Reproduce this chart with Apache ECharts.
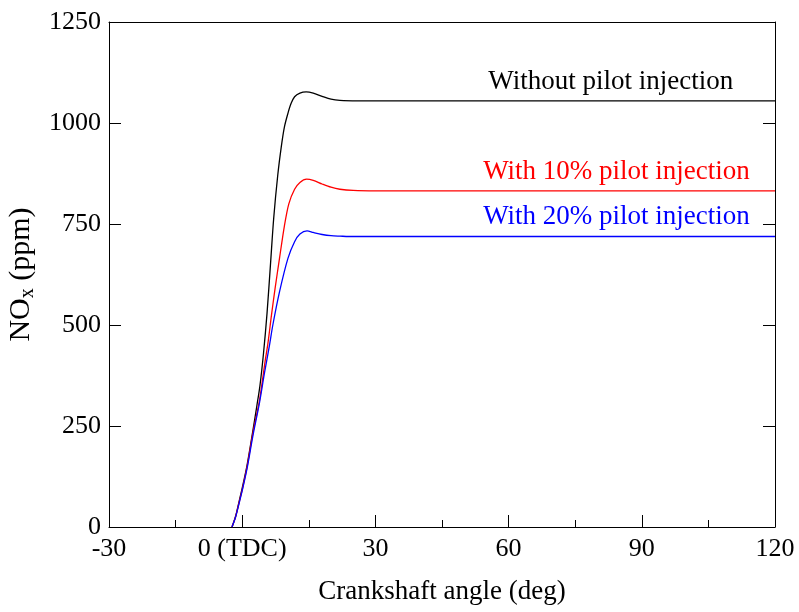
<!DOCTYPE html>
<html>
<head>
<meta charset="utf-8">
<script src="https://cdn.jsdelivr.net/npm/echarts@6/dist/echarts.min.js"></script>
<style>
  html, body { margin: 0; padding: 0; background: #fff; }
  #chart { width: 799px; height: 612px; }
</style>
</head>
<body>
<div id="chart"></div>
<script>
// crank angle (deg) / NOx (ppm)
const noPilotAngle = [-2.3, -1.5, -0.6, 0, 1.1, 2.4, 3.3, 4.0, 4.8, 5.6, 6.4, 7.1, 8, 8.8, 9.5, 10.3, 11, 11.8, 13, 14.4, 16, 18, 20, 22, 26, 120];
const noPilotNox = [0, 26, 68, 96, 153, 238, 300, 350, 430, 530, 655, 765, 870, 941, 990, 1024, 1048, 1065, 1074, 1077, 1074, 1066, 1059, 1056, 1055, 1055];

const pilot10Angle = [-2.3, -1.5, -0.6, 0, 1.1, 2.4, 3.9, 5.2, 5.8, 6.6, 7.4, 8.4, 9.5, 10.5, 11.8, 13, 14.5, 16, 18, 20, 22, 25, 30, 120];
const pilot10Nox = [0, 25, 65, 92, 149, 232, 314, 413, 455, 525, 590, 665, 745, 800, 836, 853, 861, 858, 849, 841, 836, 833, 832, 832];

const pilot20Angle = [-2.3, -1.5, -0.6, 0, 1.1, 2.4, 3.9, 5.0, 6.15, 6.9, 8.4, 10.3, 11.8, 13, 14.6, 16, 18, 20, 22, 25, 120];
const pilot20Nox = [0, 24, 63, 90, 145, 225, 308, 380, 450, 500, 582, 665, 706, 725, 733, 729, 724, 721, 720, 719, 719];

const seriesNames = ['Without pilot injection', 'With 10% pilot injection', 'With 20% pilot injection'];
const seriesColors = ['#000000', '#ff0000', '#0000ff'];
// where each curve's caption sits, in data units
const captionAt = [[83.0, 1101], [84.3, 879], [84.3, 767]];

const xTicks = [-30, 0, 30, 60, 90, 120];
const yTicks = [0, 250, 500, 750, 1000, 1250];

const font = 'Liberation Serif';

function pairs(xs, ys) {
  return xs.map((x, i) => [x, ys[i]]);
}

const curves = [
  pairs(noPilotAngle, noPilotNox),
  pairs(pilot10Angle, pilot10Nox),
  pairs(pilot20Angle, pilot20Nox),
];

const chart = echarts.init(document.getElementById('chart'));

const axisLine = { show: true, onZero: false, lineStyle: { color: '#000', width: 1 } };
const tick = { show: true, inside: true, length: 12, lineStyle: { color: '#000' } };

chart.setOption({
  animation: false,
  grid: { left: 109, right: 24, top: 22, bottom: 85, outerBoundsMode: 'none' },
  xAxis: [
    {
      type: 'value',
      min: xTicks[0],
      max: xTicks[xTicks.length - 1],
      interval: 30,
      axisLine: axisLine,
      axisTick: tick,
      minorTick: { show: true, splitNumber: 2, length: 7, lineStyle: { color: '#000' } },
      splitLine: { show: false },
      axisLabel: {
        color: '#000', fontFamily: font, fontSize: 26, margin: 9,
        formatter: v => (v === 0 ? '0 (TDC)' : String(v)),
      },
      name: 'Crankshaft angle (deg)',
      nameLocation: 'middle',
      nameGap: 51,
      nameTextStyle: { color: '#000', fontFamily: font, fontSize: 27 },
    },
    {
      type: 'value',
      position: 'top',
      min: xTicks[0],
      max: xTicks[xTicks.length - 1],
      axisLine: axisLine,
      axisTick: { show: false },
      axisLabel: { show: false },
      splitLine: { show: false },
    },
  ],
  yAxis: [
    {
      type: 'value',
      min: yTicks[0],
      max: yTicks[yTicks.length - 1],
      interval: 250,
      axisLine: axisLine,
      axisTick: tick,
      splitLine: { show: false },
      axisLabel: { color: '#000', fontFamily: font, fontSize: 26, margin: 8, formatter: v => String(v) },
      name: 'NO{sub|x} (ppm)',
      nameLocation: 'middle',
      nameGap: 62,
      nameTextStyle: {
        color: '#000', fontFamily: font, fontSize: 30,
        rich: {
          sub: { fontFamily: font, fontSize: 20, color: '#000', verticalAlign: 'bottom', padding: [13, 0, 0, 0] },
        },
      },
    },
    {
      type: 'value',
      position: 'right',
      min: yTicks[0],
      max: yTicks[yTicks.length - 1],
      interval: 250,
      axisLine: axisLine,
      axisTick: tick,
      axisLabel: { show: false },
      splitLine: { show: false },
    },
  ],
  series: curves.map((data, i) => ({
    name: seriesNames[i],
    type: 'line',
    data: data,
    smooth: 0.3,
    showSymbol: false,
    symbol: 'none',
    lineStyle: { color: seriesColors[i], width: 1.3 },
    markPoint: {
      symbol: 'circle',
      symbolSize: 0,
      data: [{ coord: captionAt[i] }],
      label: {
        show: true,
        position: 'inside',
        formatter: seriesNames[i],
        color: seriesColors[i],
        fontFamily: font,
        fontSize: 27,
      },
    },
  })),
});
</script>
</body>
</html>
